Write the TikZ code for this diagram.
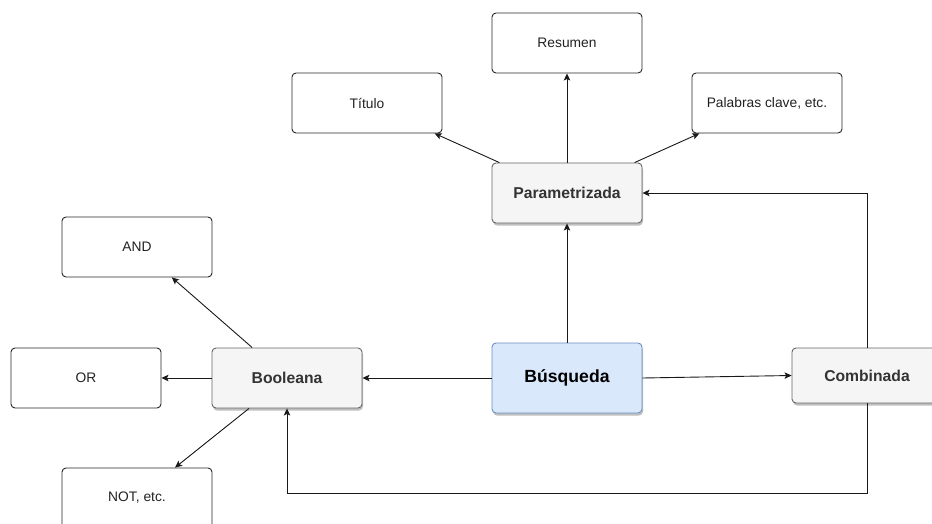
\documentclass[tikz,border=0pt]{standalone}
\usepackage{fontspec}
\setmainfont{Liberation Sans}
\usetikzlibrary{arrows.meta,shadows}
\definecolor{greyfill}{HTML}{F5F5F5}
\definecolor{greyline}{HTML}{666666}
\definecolor{greytext}{HTML}{333333}
\definecolor{bluefill}{HTML}{DAE8FC}
\definecolor{blueline}{HTML}{6C8EBF}
\definecolor{plaintext}{HTML}{222222}
\begin{document}
\begin{tikzpicture}[x=1pt,y=-1pt,
  box/.style={draw=black!85, line width=0.9pt, rounded corners=4pt,
    minimum width=150pt, minimum height=60pt, inner sep=0pt, fill=white,
    text=plaintext, font=\fontsize{13.8}{16}\selectfont},
  greybox/.style={box, fill=greyfill, draw=greyline, text=greytext,
    font=\fontsize{15.7}{18}\selectfont\bfseries,
    drop shadow={shadow xshift=1pt, shadow yshift=-2.5pt, opacity=0.25, fill=black}},
  mainbox/.style={greybox, fill=bluefill, draw=blueline, text=black,
    minimum height=70pt, font=\fontsize{17.6}{20}\selectfont\bfseries},
  arr/.style={draw=black!90, line width=0.9pt,
    -{Stealth[length=7pt,width=6.5pt,inset=1.5pt]}}]
\useasboundingbox (0,0) rectangle (932,524);
\clip (0,0) rectangle (932,524);

% leaves
\node[box] (resumen) at (567,43) {Resumen};
\node[box] (titulo) at (367,103) {Título};
\node[box] (palabras) at (767,103) {Palabras clave, etc.};
\node[box] (and) at (137,247) {AND};
\node[box] (or) at (86,378) {OR};
\node[box] (not) at (137,498) {NOT, etc.};

% search kinds
\node[greybox] (param) at (567,193) {Parametrizada};
\node[greybox] (bool) at (287,378) {Booleana};
\node[greybox, minimum height=55pt] (comb) at (867,375.5) {Combinada};
\node[mainbox] (busq) at (567,378) {Búsqueda};

% connectors
\draw[arr] (busq) -- (param);
\draw[arr] (busq) -- (bool);
\draw[arr] (busq.east) -- (comb.west);
\draw[arr] (param) -- (resumen);
\draw[arr] (param) -- (titulo);
\draw[arr] (param) -- (palabras);
\draw[arr] (bool) -- (and);
\draw[arr] (bool) -- (or);
\draw[arr] (bool) -- (not);
\draw[arr] (comb.north) |- (param.east);
\coordinate (loop) at (867,493);
\draw[arr] (comb.south) -- (loop) -| (bool.south);
\end{tikzpicture}
\end{document}
